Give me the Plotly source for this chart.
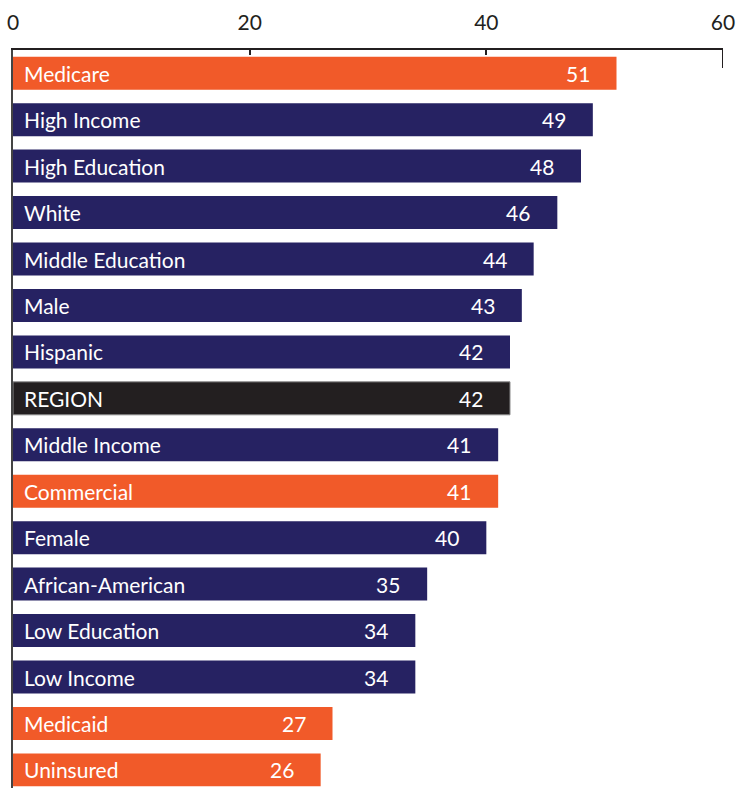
import plotly.graph_objects as go

categories = ["Medicare", "High Income", "High Education", "White", "Middle Education",
              "Male", "Hispanic", "REGION", "Middle Income", "Commercial", "Female",
              "African-American", "Low Education", "Low Income", "Medicaid", "Uninsured"]
values = [51, 49, 48, 46, 44, 43, 42, 42, 41, 41, 40, 35, 34, 34, 27, 26]
groups = ["coverage", "group", "group", "group", "group", "group", "group", "region",
          "group", "coverage", "group", "group", "group", "group", "coverage", "coverage"]
tick_values = [0, 20, 40, 60]

ORANGE = "#F15A29"
NAVY = "#262262"
BLACK = "#231F20"
palette = {"coverage": ORANGE, "group": NAVY, "region": BLACK}
bar_colors = [palette[g] for g in groups]
outline = ["#8a8a8a" if g == "region" else palette[g] for g in groups]
outline_w = [1 if g == "region" else 0 for g in groups]

FONT = "Lato"
positions = list(range(len(categories)))

fig = go.Figure()
fig.add_trace(go.Bar(
    x=values, y=positions, orientation="h",
    marker=dict(color=bar_colors, line=dict(color=outline, width=outline_w)),
    width=0.71, hoverinfo="skip",
))

for i, (cat, val) in enumerate(zip(categories, values)):
    fig.add_annotation(x=0, y=i, text=cat, xanchor="left", xshift=9, showarrow=False,
                       font=dict(family=FONT, size=21, color="white"))
    fig.add_annotation(x=val, y=i, text=str(val), xanchor="right", xshift=-25, showarrow=False,
                       font=dict(family=FONT, size=21, color="white"))

# longer end tick at the right of the top axis
fig.add_shape(type="line", xref="x", yref="paper", x0=tick_values[-1], x1=tick_values[-1],
              y0=1, y1=1 - 18 / 738, line=dict(color="#231F20", width=2))

fig.update_layout(
    width=736, height=788,
    margin=dict(l=13, r=13, t=50, b=0),
    paper_bgcolor="white", plot_bgcolor="white",
    showlegend=False,
    xaxis=dict(side="top", range=[0, 60], tickvals=tick_values, ticks="inside",
               ticklen=5, tickwidth=1.5, tickcolor="#231F20",
               showline=True, linecolor="#231F20", linewidth=2,
               showgrid=False, zeroline=False, ticklabelstandoff=10,
               tickfont=dict(family=FONT, size=21, color="#231F20")),
    yaxis=dict(range=[15.39, -0.5], showticklabels=False, ticks="",
               showline=True, linecolor="#444444", linewidth=2,
               showgrid=False, zeroline=False),
)

fig.write_html("out.html")
